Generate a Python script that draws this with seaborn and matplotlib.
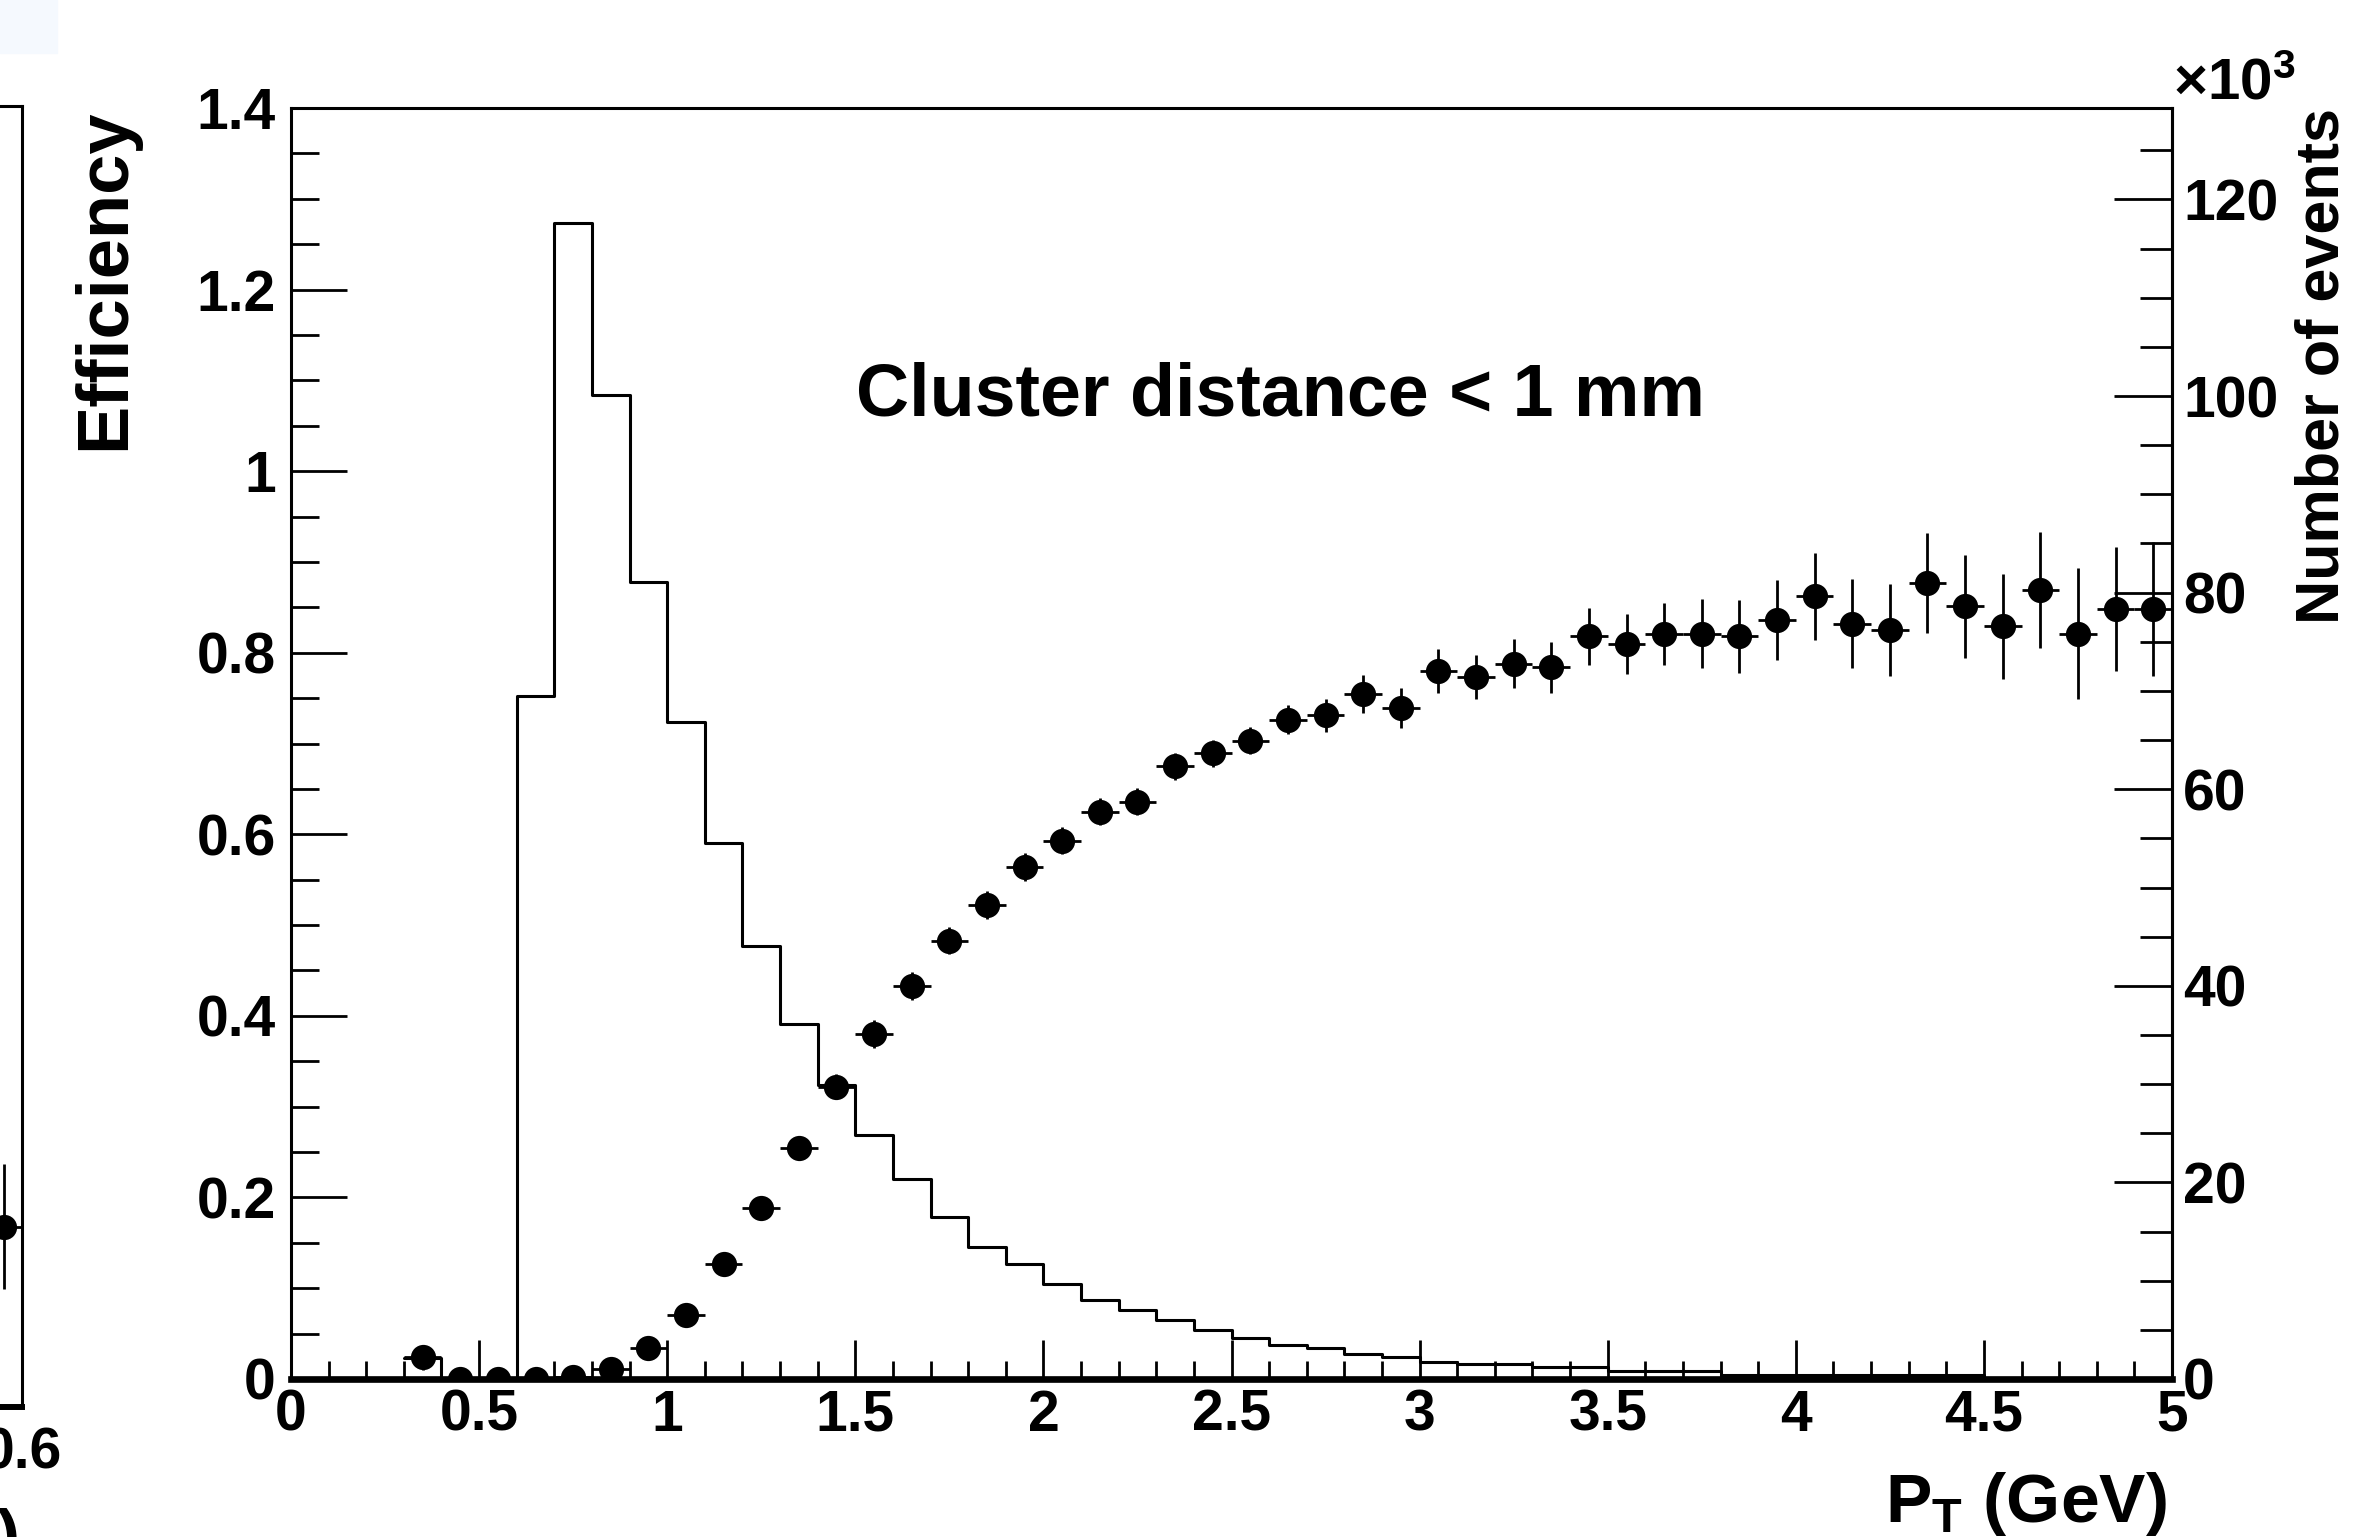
import numpy as np
import pandas as pd
import matplotlib
matplotlib.use('Agg')
import matplotlib.pyplot as plt
from matplotlib.ticker import MultipleLocator, FuncFormatter
from matplotlib.patches import Rectangle
import seaborn as sns

# pT binning (GeV), 0.1 GeV wide bins
pt_edges = [0.3, 0.4, 0.5, 0.6, 0.7, 0.8, 0.9, 1.0, 1.1, 1.2, 1.3, 1.4, 1.5, 1.6,
            1.7, 1.8, 1.9, 2.0, 2.1, 2.2, 2.3, 2.4, 2.5, 2.6, 2.7, 2.8, 2.9, 3.0,
            3.1, 3.2, 3.3, 3.4, 3.5, 3.6, 3.7, 3.8, 3.9, 4.0, 4.1, 4.2, 4.3, 4.4,
            4.5, 4.6, 4.7, 4.8, 4.9, 5.0]

# number of events per bin (x10^3)
n_events = [2.1, 0, 0, 69.5, 117.6, 100.1, 81.1, 66.8, 54.5, 44.1,
            36.1, 29.9, 24.8, 20.3, 16.5, 13.4, 11.7, 9.7, 8.0, 7.0,
            6.0, 5.0, 4.2, 3.5, 3.2, 2.5, 2.2, 1.75, 1.5, 1.5,
            1.2, 1.2, 0.8, 0.8, 0.8, 0.45, 0.45, 0.45, 0.45, 0.45,
            0.45, 0.45, 0.1, 0.1, 0.1, 0.1, 0.1]

# efficiency per bin and its error
efficiency = [0.024, 0.0, 0.0, 0.0, 0.002, 0.011, 0.034, 0.071, 0.127, 0.188,
              0.254, 0.322, 0.380, 0.433, 0.483, 0.522, 0.564, 0.593, 0.625, 0.636,
              0.675, 0.689, 0.703, 0.726, 0.731, 0.755, 0.739, 0.780, 0.773, 0.788,
              0.784, 0.818, 0.810, 0.821, 0.821, 0.818, 0.836, 0.862, 0.832, 0.825,
              0.877, 0.851, 0.829, 0.869, 0.821, 0.848, 0.848]
eff_err = [0.014, 0.004, 0.004, 0.004, 0.004, 0.006, 0.008, 0.010, 0.011, 0.012,
           0.013, 0.014, 0.015, 0.015, 0.015, 0.015, 0.015, 0.015, 0.015, 0.015,
           0.015, 0.015, 0.015, 0.016, 0.018, 0.021, 0.022, 0.024, 0.024, 0.027,
           0.028, 0.031, 0.033, 0.034, 0.038, 0.040, 0.044, 0.048, 0.049, 0.051,
           0.055, 0.057, 0.058, 0.064, 0.072, 0.068, 0.074]

# neighbouring panel, only its last point is visible
prev_pt = [0.55]
prev_eff = [0.194]
prev_err = [0.067]

edges = np.array(pt_edges)
centres = (edges[:-1] + edges[1:]) / 2
half_bin = (edges[1] - edges[0]) / 2
df = pd.DataFrame({'pt': centres, 'events': n_events, 'eff': efficiency, 'err': eff_err})

sns.set_style('ticks')
plt.rcParams['font.family'] = ['Liberation Sans', 'DejaVu Sans']
plt.rcParams['font.weight'] = 'bold'
plt.rcParams['axes.labelweight'] = 'bold'
plt.rcParams['mathtext.fontset'] = 'custom'
plt.rcParams['mathtext.rm'] = 'Liberation Sans:bold'
plt.rcParams['mathtext.bf'] = 'Liberation Sans:bold'
plt.rcParams['mathtext.it'] = 'Liberation Sans:bold'
for key in ['text.color', 'axes.labelcolor', 'axes.edgecolor', 'xtick.color', 'ytick.color']:
    plt.rcParams[key] = 'black'

W, H = 2353, 1537
fig = plt.figure(figsize=(W / 100, H / 100), dpi=100)
fig.patches.append(Rectangle((0, 1 - 53 / H), 57 / W, 53 / H, transform=fig.transFigure,
                             color='#f5f9fe', zorder=0))

fmt = FuncFormatter(lambda v, p: '%g' % round(v, 3))
tick_fs = 41
msize = 330

# partial left panel
ax0 = fig.add_axes([-194 / W, 130 / H, 216 / W, 1301 / H])
ax0.set_xlim(0, 0.6)
ax0.set_ylim(0, 1.4)
ax0.errorbar(prev_pt, prev_eff, yerr=prev_err, xerr=half_bin, fmt='none',
             ecolor='black', elinewidth=2, capsize=0)
sns.scatterplot(x=prev_pt, y=prev_eff, ax=ax0, color='black', s=msize, linewidth=0, zorder=5)
ax0.set_xticks([0.6])
ax0.xaxis.set_major_formatter(fmt)
ax0.set_yticks([])
ax0.tick_params(axis='x', direction='in', length=0, labelsize=tick_fs, pad=14)
for s in ['top', 'right']:
    ax0.spines[s].set_linewidth(2.2)
ax0.spines['bottom'].set_linewidth(4.3)
fig.text(18 / W, -21 / H, 'P$_T$ (GeV)', ha='right', va='baseline', fontsize=50)

# main panel
ax = fig.add_axes([291 / W, 158 / H, 1881 / W, 1271 / H])
ax.errorbar(df['pt'], df['eff'], yerr=df['err'], xerr=half_bin, fmt='none',
            ecolor='black', elinewidth=2, capsize=0, zorder=3)
sns.scatterplot(data=df, x='pt', y='eff', ax=ax, color='black', s=msize,
                linewidth=0, zorder=4)
ax.set_xlim(0, 5)
ax.set_ylim(0, 1.4)
ax.set_xlabel('')
ax.set_ylabel('')
ax.xaxis.set_major_locator(MultipleLocator(0.5))
ax.xaxis.set_minor_locator(MultipleLocator(0.1))
ax.yaxis.set_major_locator(MultipleLocator(0.2))
ax.yaxis.set_minor_locator(MultipleLocator(0.05))
ax.xaxis.set_major_formatter(fmt)
ax.yaxis.set_major_formatter(fmt)
ax.tick_params(axis='x', which='major', direction='in', length=28, width=2, labelsize=tick_fs, pad=7)
ax.tick_params(axis='x', which='minor', direction='in', length=13, width=2)
ax.tick_params(axis='y', which='major', direction='in', length=40, width=2, labelsize=tick_fs, pad=11)
ax.tick_params(axis='y', which='minor', direction='in', length=20, width=2)
for s in ['top', 'left', 'right']:
    ax.spines[s].set_linewidth(2.2)
ax.spines['bottom'].set_linewidth(4.8)

# event counts on the right-hand scale
ax2 = ax.twinx()
sns.histplot(data=df, x='pt', weights='events', bins=pt_edges, element='step', fill=False,
             color='black', linewidth=2.2, ax=ax2)
ax2.set_ylim(0, 129.3)
ax2.set_xlim(0, 5)
ax2.set_ylabel('')
ax2.yaxis.set_major_locator(MultipleLocator(20))
ax2.yaxis.set_minor_locator(MultipleLocator(5))
ax2.yaxis.set_major_formatter(fmt)
ax2.tick_params(axis='y', which='major', direction='in', length=42, width=2, labelsize=tick_fs, pad=8)
ax2.tick_params(axis='y', which='minor', direction='in', length=23, width=2)
for s in ['top', 'left', 'bottom']:
    ax2.spines[s].set_visible(False)
ax2.spines['right'].set_linewidth(2.2)

fig.text(2173 / W, 1 - 100 / H, '×10$^3$', ha='left', va='baseline', fontsize=42)
fig.text(105 / W, 1 - 108 / H, 'Efficiency', rotation=90, ha='center', va='top', fontsize=52)
fig.text(2323 / W, 1 - 108 / H, 'Number of events', rotation=90, ha='center', va='top', fontsize=44)
fig.text(1280 / W, 1 - 416 / H, 'Cluster distance < 1 mm', ha='center', va='baseline', fontsize=53)
fig.text(2167 / W, 15 / H, 'P$_T$ (GeV)', ha='right', va='baseline', fontsize=50)

fig.savefig('out.png', dpi=100)
